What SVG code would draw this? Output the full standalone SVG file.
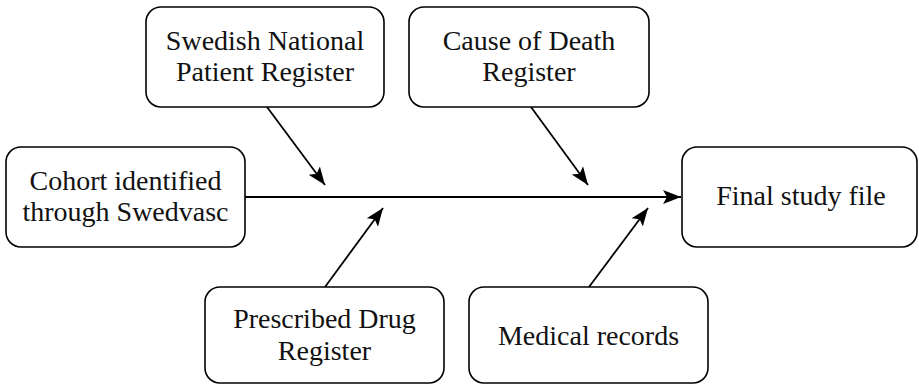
<svg xmlns="http://www.w3.org/2000/svg" width="919" height="385" viewBox="0 0 919 385">
<style>
.box{fill:#fff;stroke:#000;stroke-width:1.6}
.t{font-family:"Liberation Serif","Times New Roman",serif;font-size:28px;fill:#111;text-anchor:middle}
.c{stroke:#000;stroke-width:1.8;fill:none}
</style>
<defs>
<marker id="ah" markerUnits="userSpaceOnUse" markerWidth="20" markerHeight="20" viewBox="0 0 20 20" refX="18" refY="10" orient="auto">
<path d="M0,3 L18,10 L0,17 L4,10 Z" fill="#000"/>
</marker>
</defs>
<rect width="919" height="385" fill="#fff"/>
<g id="connectors">
<line class="c" x1="245" y1="197" x2="681" y2="197" marker-end="url(#ah)"/>
<line class="c" x1="267" y1="107" x2="325" y2="185" marker-end="url(#ah)"/>
<line class="c" x1="531" y1="107" x2="588" y2="185" marker-end="url(#ah)"/>
<line class="c" x1="325" y1="287" x2="383" y2="208" marker-end="url(#ah)"/>
<line class="c" x1="589" y1="287" x2="648" y2="208" marker-end="url(#ah)"/>
</g>
<g id="npr">
<rect class="box" x="146" y="7" width="238" height="100" rx="15"/>
<text class="t" x="265" y="50">Swedish National</text>
<text class="t" x="265" y="81">Patient Register</text>
</g>
<g id="cdr">
<rect class="box" x="409" y="7" width="240" height="100" rx="15"/>
<text class="t" x="529" y="50">Cause of Death</text>
<text class="t" x="529" y="81">Register</text>
</g>
<g id="cohort">
<rect class="box" x="6" y="147" width="239" height="100" rx="15"/>
<text class="t" x="125.5" y="190">Cohort identified</text>
<text class="t" x="125.5" y="221">through Swedvasc</text>
</g>
<g id="final">
<rect class="box" x="682" y="147" width="235" height="100" rx="15"/>
<text class="t" x="801" y="205">Final study file</text>
</g>
<g id="pdr">
<rect class="box" x="205" y="287" width="239" height="96" rx="15"/>
<text class="t" x="324.5" y="328">Prescribed Drug</text>
<text class="t" x="324.5" y="360">Register</text>
</g>
<g id="med">
<rect class="box" x="469" y="287" width="239" height="96" rx="15"/>
<text class="t" x="588.5" y="345">Medical records</text>
</g>
</svg>
